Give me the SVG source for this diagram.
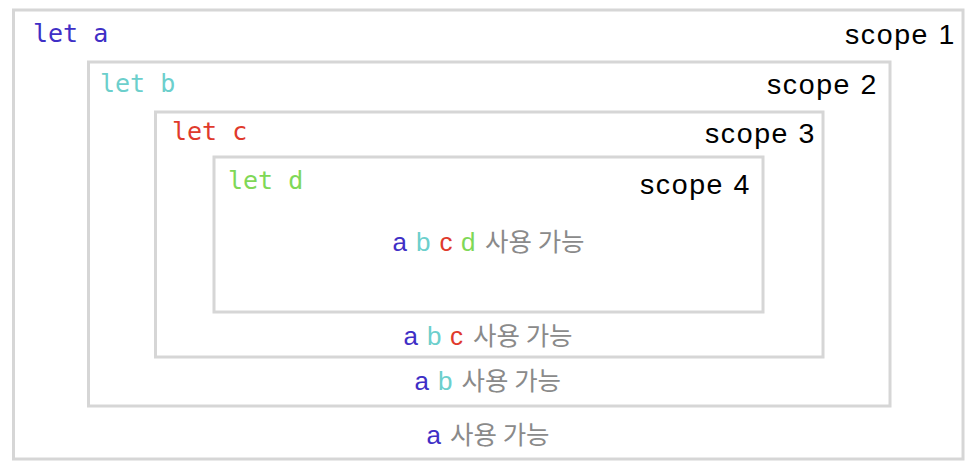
<svg xmlns="http://www.w3.org/2000/svg" width="978" height="470" viewBox="0 0 978 470">
<style>
.box{fill:none;stroke:#d6d6d6;stroke-width:3}
.mono{font-family:"DejaVu Sans Mono","Liberation Mono",monospace;font-size:25px}
.lbl{font-family:"Liberation Sans",Arial,sans-serif;font-size:28.5px;fill:#000;letter-spacing:1.6px}
.use{font-family:"Liberation Sans","Noto Sans CJK KR",sans-serif;font-size:26px}
.ko{font-family:"Noto Sans CJK KR",sans-serif;font-size:25.5px;fill:#8a8a8a}
.ca{fill:#3f2fc6}.cb{fill:#6ccfcc}.cc{fill:#e03a2c}.cd{fill:#7fd857}
</style>
<rect width="978" height="470" fill="#fff"/>
<g id="scope1">
<rect class="box" x="13.5" y="10" width="949.5" height="449"/>
<text class="mono ca" x="33" y="42">let a</text>
<text class="lbl" x="845" y="44">scope 1</text>
<text class="use" y="444"><tspan class="ca" x="426.5">a</tspan><tspan class="ko" x="450">사용 가능</tspan></text>
</g>
<g id="scope2">
<rect class="box" x="88.5" y="62" width="801.5" height="344"/>
<text class="mono cb" x="100" y="92">let b</text>
<text class="lbl" x="767" y="94">scope 2</text>
<text class="use" y="390"><tspan class="ca" x="414.5">a</tspan><tspan class="cb" x="438">b</tspan><tspan class="ko" x="461.5">사용 가능</tspan></text>
</g>
<g id="scope3">
<rect class="box" x="155.5" y="112" width="667.5" height="245"/>
<text class="mono cc" x="172" y="140">let c</text>
<text class="lbl" x="705" y="143">scope 3</text>
<text class="use" y="345"><tspan class="ca" x="403.5">a</tspan><tspan class="cb" x="427">b</tspan><tspan class="cc" x="450">c</tspan><tspan class="ko" x="473">사용 가능</tspan></text>
</g>
<g id="scope4">
<rect class="box" x="214" y="157" width="549" height="155"/>
<text class="mono cd" x="228" y="189">let d</text>
<text class="lbl" x="640" y="194">scope 4</text>
<text class="use" y="251"><tspan class="ca" x="392.5">a</tspan><tspan class="cb" x="416">b</tspan><tspan class="cc" x="439.5">c</tspan><tspan class="cd" x="461">d</tspan><tspan class="ko" x="485">사용 가능</tspan></text>
</g>
<g id="connectors"/>
</svg>
